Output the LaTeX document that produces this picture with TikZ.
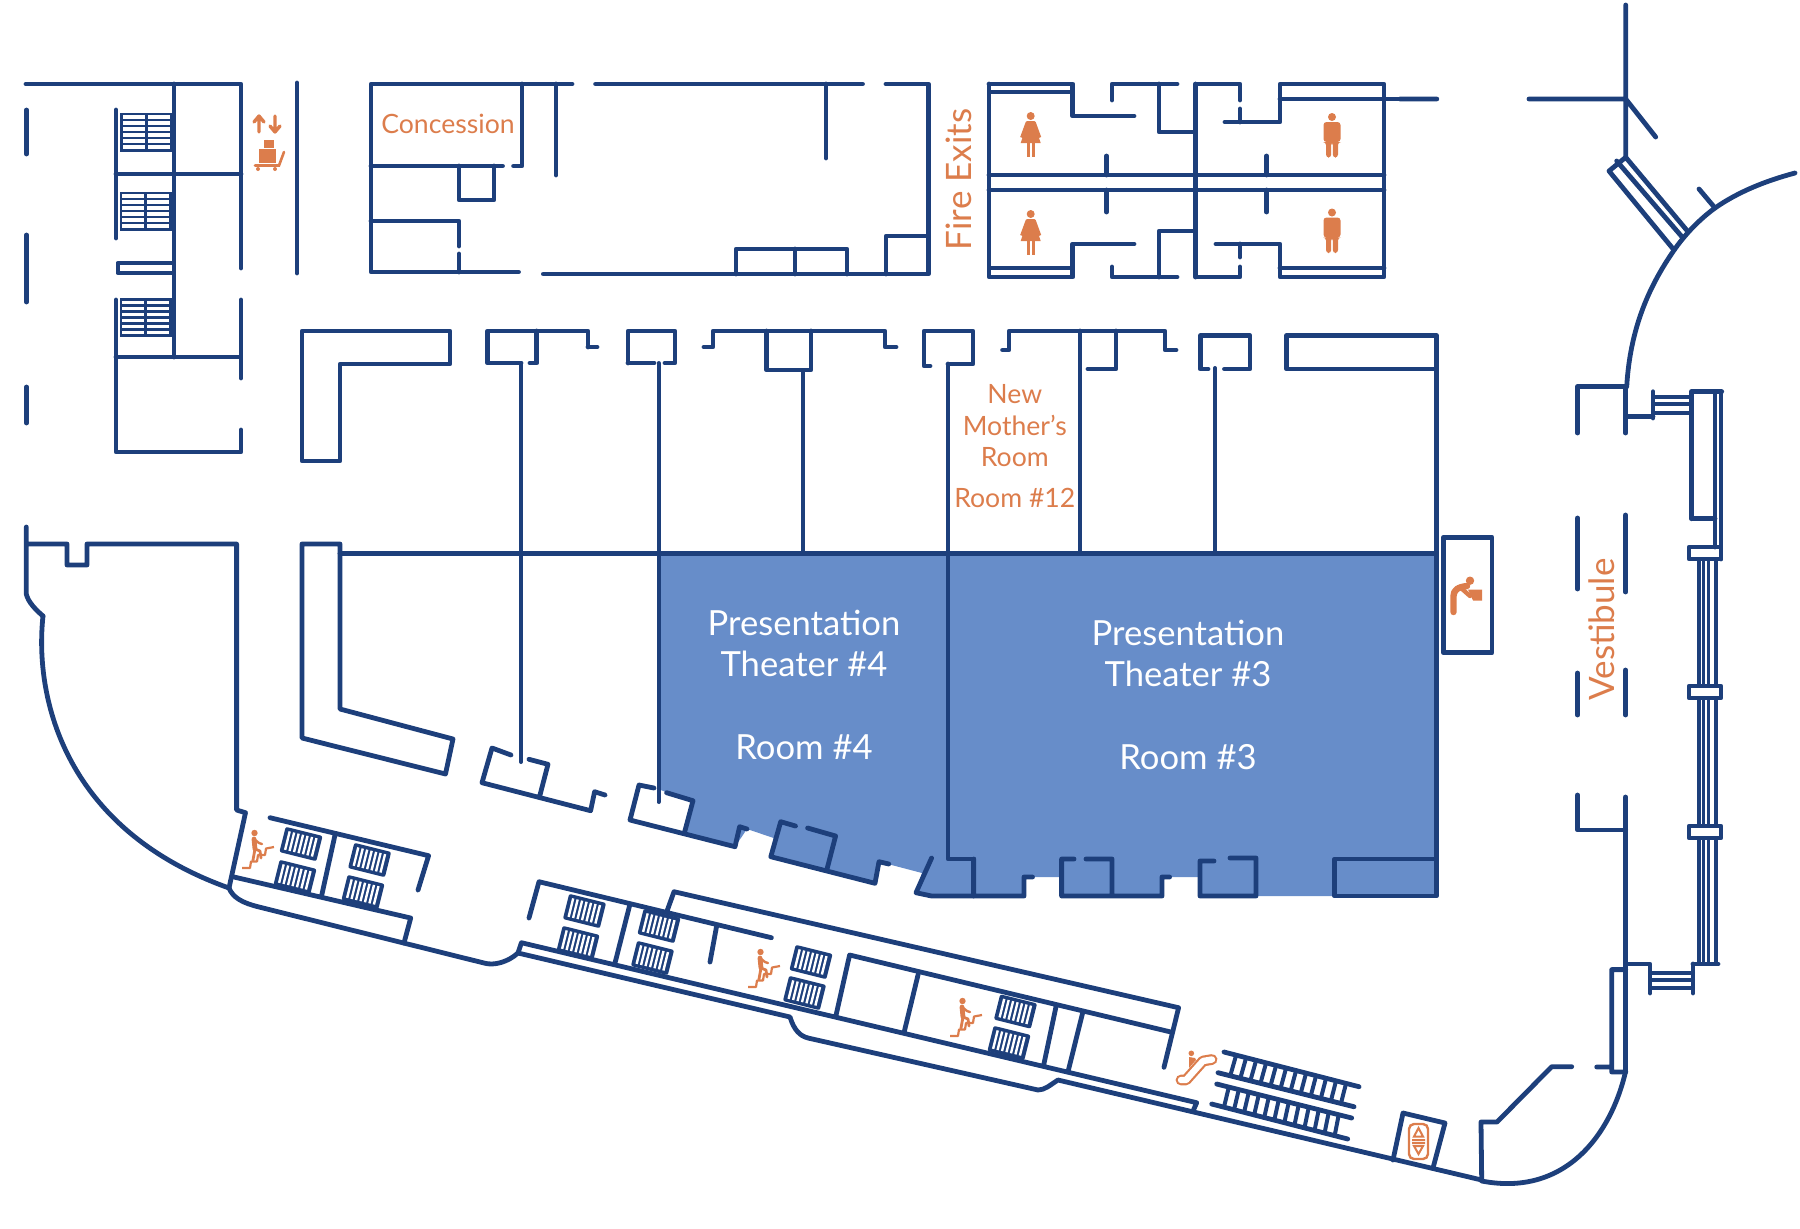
\documentclass[tikz,border=0pt]{standalone}
\usepackage{fontspec}
\setmainfont{Lato}
\usetikzlibrary{calc}
\definecolor{navy}{HTML}{1D3F7B}
\definecolor{orng}{HTML}{DC7D4C}
\definecolor{hall}{HTML}{678DC9}
\tikzset{
  wall/.style={draw=navy,line width=2.4pt,line cap=round,line join=round},
  thinwall/.style={draw=navy,line width=2pt,line cap=round,line join=round},
  ink/.style={fill=orng,draw=none},
  inkline/.style={draw=orng,line width=1.1pt,line join=round},
  lbl/.style={text=orng,font=\fontsize{13.3}{15}\selectfont,anchor=base,inner sep=0pt},
  big/.style={text=orng,font=\fontsize{17.5}{20}\selectfont,inner sep=0pt,rotate=90},
  thtr/.style={text=white,font=\fontsize{17.3}{19}\selectfont,anchor=base,inner sep=0pt},
  pics/flatstair/.style={code={
    \fill[navy,rounded corners=1pt] (-19,-13) rectangle (19,13);
    \foreach \i in {0,...,6}{\fill[white] (-15.2+4.6*\i,-9.5) rectangle (-12.8+4.6*\i,9.5);}
  }},
  pics/upstair/.style={code={
    \fill[navy] (-26,-19.5) rectangle (26,19.5);
    \foreach \r in {-15,-9,-3,3,9,15}{
      \fill[white] (-23.5,\r-1.55) rectangle (-1.7,\r+1.55);
      \fill[white] (1.7,\r-1.55) rectangle (23.5,\r+1.55);}
  }},
  pics/woman/.style={code={
    \fill[orng] (0,4) circle (4);
    \fill[orng] (-3.5,9) -- (3.5,9) -- (5,10) -- (10.5,25) -- (8,26) -- (6,19) -- (10,31) -- (-10,31) -- (-6,19) -- (-8,26) -- (-10.5,25) -- (-5,10) -- cycle;
    \fill[orng] (-4,31) rectangle (-0.8,44.5);
    \fill[orng] (0.8,31) rectangle (4,44.5);
  }},
  pics/man/.style={code={
    \fill[orng] (0,4) circle (4);
    \fill[orng,rounded corners=1.5pt] (-8.5,9) -- (8.5,9) -- (8.5,29) -- (6,29) -- (6,44.5) -- (0.8,44.5) -- (0.8,29) -- (-0.8,29) -- (-0.8,44.5) -- (-6,44.5) -- (-6,29) -- (-8.5,29) -- cycle;
  }},
  pics/climber/.style={code={
    \draw[inkline] (0,0) -- (8,0) -- (9,-6.5) -- (15,-6.5) -- (16,-13) -- (23,-13) -- (24,-19.5) -- (32,-21);
    \fill[orng] (12.5,-35) circle (3.2);
    \draw[orng,line width=2.4pt,line cap=round] (12,-29) -- (13,-19);
    \draw[orng,line width=1.2pt,line cap=round,line join=round] (12,-29) -- (17,-25) -- (20,-24);
    \draw[orng,line width=1.4pt,line cap=round,line join=round] (13,-19) -- (18,-17) -- (19,-10);
    \draw[orng,line width=1.4pt,line cap=round] (13,-19) -- (11,-8);
  }}
}
\begin{document}
\begin{tikzpicture}[x=0.5pt,y=-0.5pt]
\useasboundingbox (0,0) rectangle (1800,1228);

% blue theatre floor
\fill[hall] (658,553) -- (1437,553) -- (1437,896) -- (1200,896) -- (1200,877) -- (1162,877) -- (1162,896)
  -- (1061.6,896) -- (1061.6,877) -- (1024,877) -- (1024,896) -- (931.6,896) -- (916,892.7) -- (922,873)
  -- (879,861.7) -- (875,883.3) -- (770.8,856.7) -- (773.6,838) -- (747,829) -- (735,846.7) -- (684.7,831.7)
  -- (693,800.7) -- (666,792) -- (658,789) -- cycle;

% stair blocks, top left
\pic at (146.3,132) {upstair};
\pic at (145.5,211) {upstair};
\pic at (145.5,317.5) {upstair};

% slanted stair blocks
\foreach \bx/\by in {301/844,295/877,369.6/860,363/892,584.5/911,578/943,659/926,652.5/958,811/962,804.5/993,1015.5/1011.5,1009/1043}{
  \pic[rotate=-14] at (\bx,\by) {flatstair};
}

% top left block
\draw[wall] (26,84) -- (241,84) -- (241,268) (174,84) -- (174,357)
  (26.4,110) -- (26.4,154) (26.4,235) -- (26.4,302) (26.4,387) -- (26.4,423)
  (116,110) -- (116,238) (116,300) -- (116,452) -- (241,452) -- (241,430)
  (116,174) -- (241,174) (116,357) -- (241,357) -- (241,378) (241,357) -- (241,300)
  (297,83) -- (297,273);
\draw[thinwall] (172,263) -- (117.5,263) -- (117.5,273) -- (172,273);

% concession block
\draw[wall] (572,84) -- (371,84) -- (371,272) -- (518.5,272)
  (522,84) -- (522,166) -- (513.6,166) (556,84) -- (556,175)
  (371,166) -- (502.5,166) (459,166) -- (459,200) -- (494,200) -- (494,166)
  (371,221) -- (459,221) -- (459,246) (459,254) -- (459,272)
  (595.6,84) -- (862.5,84) (826,84) -- (826,158) (886,84) -- (928.5,84) -- (928.5,274) -- (543.4,274)
  (736,274) -- (736,249) -- (847,249) -- (847,274) (795,249) -- (795,274)
  (886,274) -- (886,236) -- (928.5,236);

% rest rooms
\draw[wall] (989,84) -- (989,277) -- (1072.6,277) -- (1072.6,244) -- (1134,244)
  (989,84) -- (1072.6,84) -- (1072.6,116) -- (1134,116)
  (989,175) -- (1384,175) (989,190) -- (1384,190)
  (1112,100) -- (1112,84) -- (1177,84) (1159,84) -- (1159,132) -- (1195.5,132)
  (1195.5,84) -- (1195.5,277) (1195.5,84) -- (1240,84) -- (1240,100) (1240,109) -- (1240,122)
  (1225,122) -- (1280,122) -- (1280,84) -- (1384,84) -- (1384,277) -- (1280,277) -- (1280,244) -- (1216,244)
  (1240,244) -- (1240,257) (1280,99) -- (1436.6,99) (1280,268) -- (1384,268)
  (1112,267) -- (1112,277) -- (1177,277) (1159,277) -- (1159,231) -- (1195.5,231)
  (1195.5,277) -- (1240,277) -- (1240,267)
  (1106.5,156) -- (1106.5,175) (1106.5,190) -- (1106.5,212)
  (1266.7,156) -- (1266.7,175) (1266.7,190) -- (1266.7,212);
\draw[thinwall] (989,92) -- (1072,92) (989,268) -- (1072,268);
\pic at (1030.7,112) {woman};
\pic at (1030.7,210) {woman};
\pic at (1332,113) {man};
\pic at (1332,208.5) {man};

% middle rooms
\draw[wall] (302,331) -- (450,331) -- (450,364) -- (340,364) -- (340,461) -- (302,461) -- cycle;
\draw[wall] (588,347) -- (588,331) -- (487.6,331) -- (487.6,363) -- (521,363) (588,347) -- (597,347)
  (536.7,331) -- (536.7,363) -- (530,363)
  (628,363) -- (628,331) -- (675,331) -- (675,363) -- (665,363) (628,363) -- (654,363)
  (704,347) -- (713,347) -- (713,331) -- (885,331) -- (885,347) -- (896,347)
  (766.6,331) -- (766.6,370) -- (811,370) -- (811,331)
  (930,366) -- (924,366) -- (924,331) -- (973,331) -- (973,364) -- (948,364)
  (1002.6,350) -- (1009,350) -- (1009,331) -- (1165,331) -- (1165,350) -- (1176,350)
  (1116,331) -- (1116,369) -- (1088,369)
  (1208,369) -- (1200.4,369) -- (1200.4,335.7) -- (1250,335.7) -- (1250,369) -- (1224.5,369)
  (1436.5,369) -- (1286.5,369) -- (1286.5,335.7) -- (1436.5,335.7) -- (1436.5,896) -- (1334.8,896) -- (1334.8,859) -- (1436.5,859)
  (340,553.5) -- (1436.5,553.5)
  (948,364) -- (948,859) -- (973.8,859) -- (973.8,896)
  (1080,331) -- (1080,553.5);
\draw[thinwall] (521,363) -- (521,762) (658.5,363) -- (658.5,802) (803,370) -- (803,553.5) (1215,368) -- (1215,553.5);

% bottom edge of the theatres
\draw[wall] (931.6,858) -- (916,892.7) -- (931.6,896) -- (1024,896) -- (1024,877) -- (1032.5,877)
  (973.8,896) -- (973.8,859)
  (1074,859) -- (1061.6,859) -- (1061.6,896) -- (1162,896) -- (1162,877) -- (1169.6,877)
  (1086,859) -- (1112,859) -- (1112,896)
  (1214,861) -- (1200,861) -- (1200,896) -- (1256,896) -- (1256,858) -- (1230,858);

% slanted rooms
\draw[wall] (654,788) -- (639,785) -- (630,820) -- (735,846.7) -- (739.6,826.7) -- (747,829)
  (666.6,792.7) -- (693,800.7) -- (684.7,831.7)
  (795.5,826) -- (780.7,821.7) -- (770.8,856.7) -- (875,883.3) -- (879,861.7) -- (888.8,864)
  (807.6,828) -- (835.6,836) -- (827.3,868)
  (511,755) -- (492,748) -- (482,782.7) -- (590.6,810.7) -- (594.6,791.7) -- (605,795)
  (529,759.3) -- (548,764.3) -- (540,795);

% L corridor
\draw[wall] (302,544) -- (340,544) -- (340,709) -- (453,739) -- (445.5,774) -- (302,738) -- cycle;

% left wing
\draw[wall] (26.3,527) -- (26.3,594) .. controls (28,602) and (36,610) .. (43,616)
  (26.3,544) -- (67,544) -- (67,565) -- (87,565) -- (87,544) -- (236.6,544) -- (236.6,810) -- (245.5,812.7) -- (229,888);
\draw[wall] (43,616) .. controls (34,700) and (66,830) .. (229,888);
\draw[wall] (229,888) .. controls (233,898) and (243,903) .. (259,907) -- (484,963)
  .. controls (494,966) and (508,962) .. (518,953);

% first stair corridor
\draw[wall] (234,877) -- (410.7,918) -- (404,943)
  (270,817.7) -- (428.6,855.7) -- (418,890)
  (335,835) -- (321.4,896.7);
\pic at (242,868) {climber};

% second stair corridor
\draw[wall] (529,918) -- (539,881.7) -- (771.4,937.7)
  (629.5,906) -- (615,963)
  (667.4,910) -- (674,891.7) -- (1178.6,1007.7) -- (1164,1067.3)
  (716.5,926.7) -- (710,962)
  (1169.6,1031.7) -- (849.6,955) -- (835.7,1016.7)
  (918,975) -- (904,1032.7)
  (1056,1006.7) -- (1043.7,1065)
  (1082.6,1013) -- (1068,1071.7)
  (518,953) -- (521.4,942.7) -- (1196.7,1102.7) -- (1193,1111);
\draw[wall] (518,953) -- (790,1017) .. controls (794,1030) and (800,1036) .. (808,1038) -- (1038,1090)
  .. controls (1045,1090) and (1050,1085) .. (1058,1080) -- (1481.7,1180);
\pic at (748,987) {climber};
\pic at (950,1036) {climber};

% escalators
\coordinate (ua) at (1224,1052); \coordinate (ub) at (1359,1086.7);
\coordinate (uc) at (1218,1072.7); \coordinate (ud) at (1354,1106.7);
\coordinate (la) at (1216.7,1084); \coordinate (lb) at (1351.7,1118);
\coordinate (lc) at (1211.7,1104); \coordinate (ld) at (1347.7,1139);
\draw[wall] (ua) -- (ub) (uc) -- (ud) (la) -- (lb) (lc) -- (ld);
\foreach \t in {0.09,0.164,0.238,0.312,0.386,0.46,0.534,0.608,0.682,0.756,0.83,0.904}{
  \draw[thinwall,line cap=butt] ($(ua)!\t!(ub)$) -- ($(uc)!\t!(ud)$);
  \draw[thinwall,line cap=butt] ($(la)!\t!(lb)$) -- ($(lc)!\t!(ld)$);
}
\draw[orng,line width=5.4pt,line cap=round,line join=round] (1181,1080) -- (1186,1080) -- (1203,1061) -- (1212,1059.5);
\draw[white,line width=3.2pt,line cap=round,line join=round] (1181,1080) -- (1186,1080) -- (1203,1061) -- (1212,1059.5);
\fill[orng] (1191.3,1053.3) circle (2.8);
\fill[orng] (1189,1057) -- (1195,1058) -- (1196,1060) -- (1189,1068) -- cycle;

% lift
\draw[wall] (1393,1160) -- (1403,1113) -- (1445,1123) -- (1433,1168);
\draw[orng,line width=1.2pt,rounded corners=2.5pt] (1409,1124) rectangle (1428,1159);
\draw[orng,line width=1pt] (1418.5,1128) -- (1423,1136.5) -- (1414,1136.5) -- cycle
  (1412,1140) -- (1425,1140) (1412,1143) -- (1425,1143)
  (1418.5,1154) -- (1423,1146) -- (1414,1146) -- cycle;

% south-east corner
\draw[wall] (1481.7,1180) -- (1481,1122) -- (1497,1122) -- (1551.7,1066.7) -- (1571.7,1066.7)
  (1596.7,1067) -- (1611.7,1067) (1611.7,969.6) -- (1625.7,969.6) (1611.7,969.6) -- (1611.7,1072) -- (1625.7,1072);
\draw[wall] (1625.7,797) -- (1625.7,1071);
\draw[wall] (1625.7,1071) .. controls (1611,1135) and (1565,1197) .. (1481.7,1181);

% vestibule walls
\draw[wall] (1577.7,518) -- (1577.7,589) (1577.7,673) -- (1577.7,715)
  (1577.7,795) -- (1577.7,830) -- (1625.7,830)
  (1625.7,515) -- (1625.7,592) (1625.7,670) -- (1625.7,715)
  (1625.7,433) -- (1625.7,386.7) -- (1577.7,386.7) -- (1577.7,433);
\draw[wall] (1795,173) .. controls (1765,181) and (1738,192) .. (1715,208)
  .. controls (1700,219) and (1685,234) .. (1673,251.7)
  .. controls (1648,288) and (1630,330) .. (1626.7,386.7);
\draw[wall] (1625.7,5) -- (1625.7,157.3) (1529,99) -- (1625.7,99) -- (1655.7,137)
  (1400,99) -- (1436.7,99) (1699,189) -- (1715,208);
\draw[wall] (1625.7,157.3) -- (1688,231.7) (1625.7,157.3) -- (1609,171) -- (1674,250) (1616.7,161) -- (1683,238);

% fountain room
\draw[wall] (1443.4,537.3) rectangle (1492,652.7);

% window wall
\draw[wall] (1625.7,416.7) -- (1653,416.7) (1653,391.7) -- (1653,418)
  (1691.7,518.75) -- (1691.7,391.7) -- (1721.7,391.7)
  (1691.7,518.75) -- (1715,518.75)
  (1715,391.7) -- (1715,547) (1721,391.7) -- (1721,559);
\draw[thinwall] (1653,396.7) -- (1691.7,396.7) (1653,404) -- (1691.7,404) (1653,412.7) -- (1691.7,412.7);
\foreach \ya/\yb in {547/559,686/698,826/838}{
  \draw[wall] (1689,\ya) rectangle (1721,\yb);
}
\foreach \vx in {1699,1703.5,1708.5,1716}{
  \draw[thinwall,line cap=butt,line width=1.6pt] (\vx,559) -- (\vx,686) (\vx,698) -- (\vx,826) (\vx,838) -- (\vx,964);
}
\draw[wall] (1625.7,964) -- (1650,964) -- (1650,993) (1693,964) -- (1693,993) (1693,964) -- (1718,964);
\draw[thinwall] (1650,973) -- (1693,973) (1650,980) -- (1693,980) (1650,987.5) -- (1693,987.5);

% service lift icon
\draw[orng,line width=1.7pt,line cap=round,line join=round] (259,132) -- (259,116) (254,122) -- (259,116) -- (264,122)
  (275,116) -- (275,132) (270,126) -- (275,132) -- (280,126);
\fill[orng] (264,140) rectangle (274,147.5);
\fill[orng] (259,149) rectangle (276,163);
\draw[orng,line width=1.3pt,line cap=round] (255,165.5) -- (279,165.5) -- (284,152);
\fill[orng] (258,169) circle (2) (275,169) circle (2);

% fountain icon
\fill[orng] (1470,580.7) circle (4.2);
\draw[orng,line width=3.2pt,line cap=round,line join=round] (1453.5,612) -- (1453.5,596) .. controls (1453.5,590) and (1458,587) .. (1467,586);
\draw[orng,line width=2.2pt,line cap=round] (1461,588) -- (1470,596);
\fill[orng] (1468,589.5) -- (1482,589.5) -- (1482,600.5) -- (1473,600.5) -- cycle;

% labels
\node[lbl] (concession) at (448,133) {Concession};
\node[lbl] (newm) at (1014.8,403) {New};
\node[lbl] (moth) at (1014.8,435) {Mother’s};
\node[lbl] (momroom) at (1014.8,466.7) {Room};
\node[lbl] (room12) at (1014.8,507) {Room \#12};
\node[big] (fire) at (959,179.5) {Fire Exits};
\node[big] (vest) at (1601.7,629.5) {Vestibule};
\node[thtr] (p4) at (804,635) {Presentation};
\node[thtr] (t4) at (804,676) {Theater \#4};
\node[thtr] (r4) at (804,759) {Room \#4};
\node[thtr] (p3) at (1188,645) {Presentation};
\node[thtr] (t3) at (1188,686.5) {Theater \#3};
\node[thtr] (r3) at (1188,769) {Room \#3};
\end{tikzpicture}
\end{document}
